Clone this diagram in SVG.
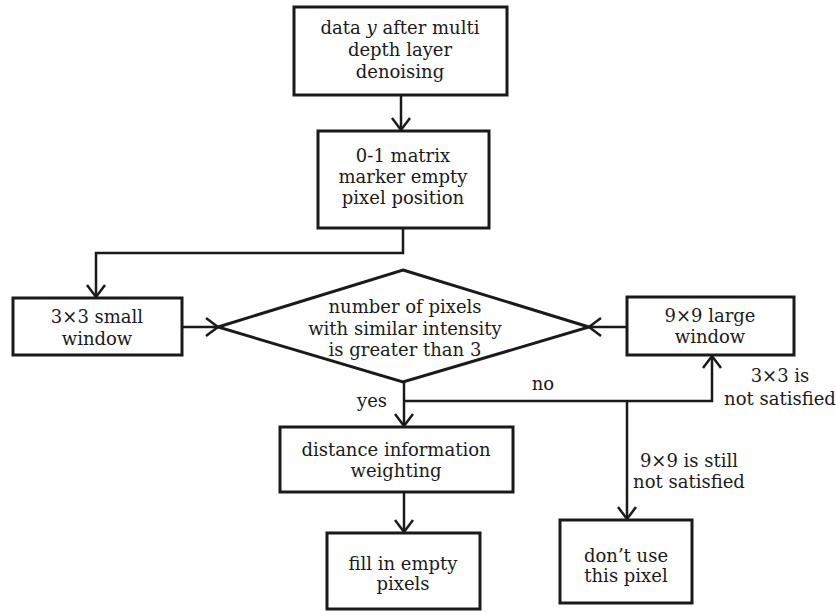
<svg xmlns="http://www.w3.org/2000/svg" width="836" height="612" viewBox="0 0 836 612">
<style>
.box{fill:#fff;stroke:#1a1a1a;stroke-width:3}
.ln{fill:none;stroke:#1a1a1a;stroke-width:2.5}
text{font-family:'DejaVu Serif',serif;font-size:18px;fill:#1a1a1a;text-anchor:middle}
</style>
<defs>
<marker id="ah" markerWidth="16" markerHeight="20" refX="13" refY="10" orient="auto" markerUnits="userSpaceOnUse">
<path d="M1,1 L13,10 L1,19" fill="none" stroke="#1a1a1a" stroke-width="2.5"/>
</marker>
</defs>
<rect width="836" height="612" fill="#fff"/>
<g id="connectors">
<line class="ln" x1="401" y1="95" x2="401" y2="130" marker-end="url(#ah)"/>
<polyline class="ln" points="403,228 403,253 96,253 96,297" marker-end="url(#ah)"/>
<line class="ln" x1="182" y1="327" x2="218" y2="327" marker-end="url(#ah)"/>
<line class="ln" x1="627" y1="327" x2="589" y2="327" marker-end="url(#ah)"/>
<line class="ln" x1="404" y1="382" x2="404" y2="426" marker-end="url(#ah)"/>
<polyline class="ln" points="404,401 712,401 712,356" marker-end="url(#ah)"/>
<line class="ln" x1="627" y1="401" x2="627" y2="519" marker-end="url(#ah)"/>
<line class="ln" x1="404" y1="492" x2="404" y2="532" marker-end="url(#ah)"/>
<text x="372" y="407">yes</text>
<text x="543" y="390">no</text>
<text x="780" y="382">3×3 is</text>
<text x="780" y="405">not satisfied</text>
<text x="689" y="467">9×9 is still</text>
<text x="689" y="488">not satisfied</text>
</g>
<g id="n1">
<rect class="box" x="294" y="7" width="213" height="88"/>
<text x="400" y="34">data <tspan font-style="italic">y</tspan> after multi</text>
<text x="400" y="56">depth layer</text>
<text x="400" y="78">denoising</text>
</g>
<g id="n2">
<rect class="box" x="318" y="131" width="171" height="97"/>
<text x="403" y="162">0-1 matrix</text>
<text x="403" y="183">marker empty</text>
<text x="403" y="204">pixel position</text>
</g>
<g id="n3">
<rect class="box" x="13" y="298" width="169" height="57"/>
<text x="97" y="323">3×3 small</text>
<text x="97" y="345">window</text>
</g>
<g id="n4">
<polygon class="box" points="403,270 589,327 403,382 218,327"/>
<text x="405" y="313">number of pixels</text>
<text x="405" y="335">with similar intensity</text>
<text x="405" y="356">is greater than 3</text>
</g>
<g id="n5">
<rect class="box" x="627" y="297" width="167" height="58"/>
<text x="710" y="322">9×9 large</text>
<text x="710" y="343">window</text>
</g>
<g id="n6">
<rect class="box" x="280" y="427" width="233" height="65"/>
<text x="396" y="456">distance information</text>
<text x="396" y="477">weighting</text>
</g>
<g id="n7">
<rect class="box" x="327" y="533" width="153" height="76"/>
<text x="403" y="570">fill in empty</text>
<text x="403" y="590">pixels</text>
</g>
<g id="n8">
<rect class="box" x="560" y="520" width="132" height="83"/>
<text x="626" y="562">don’t use</text>
<text x="626" y="582">this pixel</text>
</g>
</svg>
